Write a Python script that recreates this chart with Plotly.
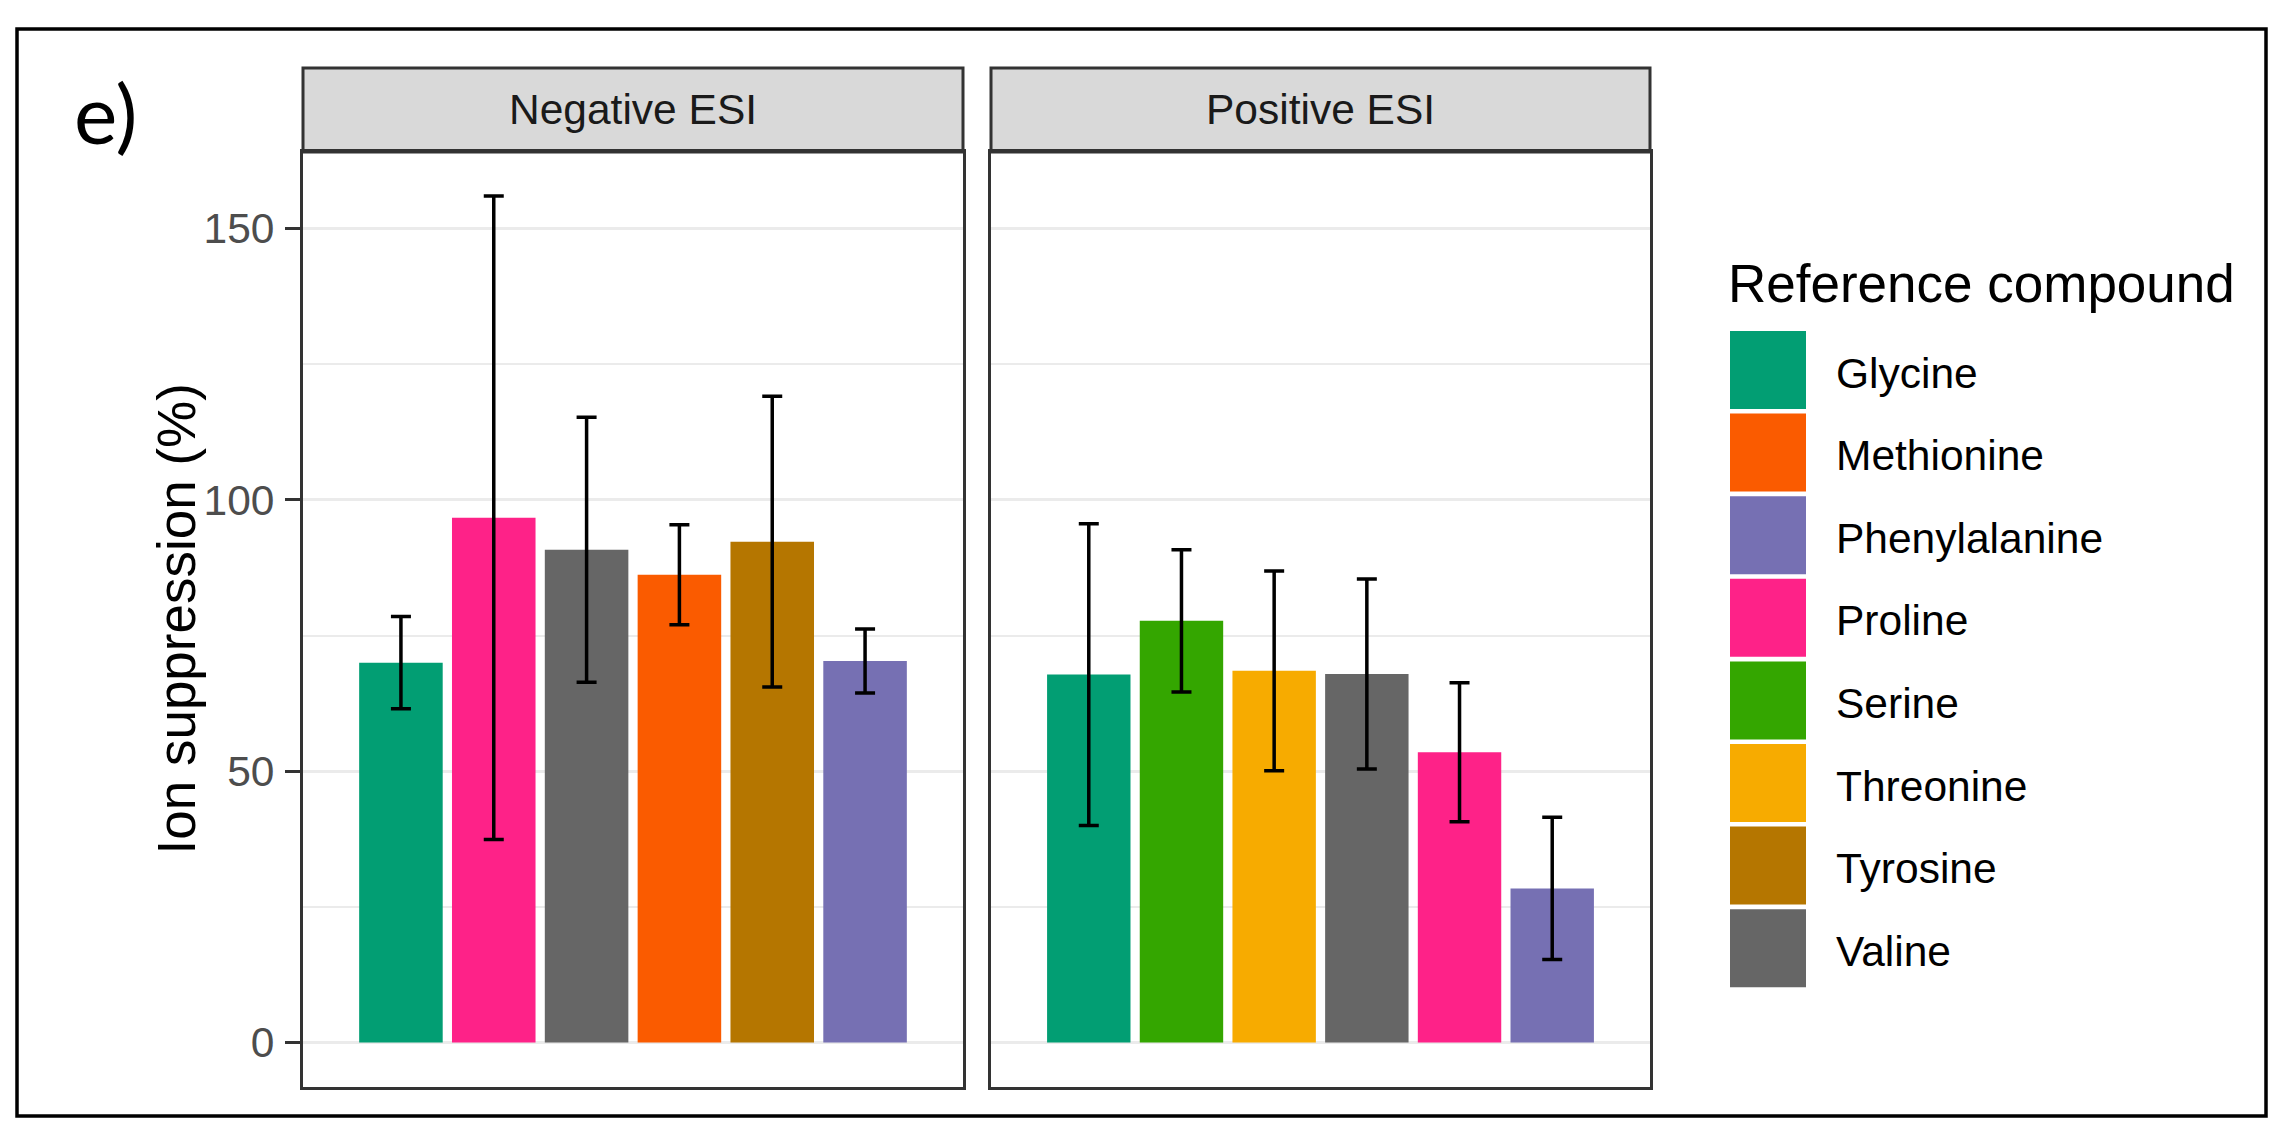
import plotly.graph_objects as go

# ---------------- data ----------------
neg_compounds = ["Glycine", "Proline", "Valine", "Methionine", "Tyrosine", "Phenylalanine"]
neg_mean = [70.0, 96.7, 90.8, 86.2, 92.3, 70.3]
neg_err = [8.5, 59.3, 24.4, 9.2, 26.8, 5.9]

pos_compounds = ["Glycine", "Serine", "Threonine", "Valine", "Proline", "Phenylalanine"]
pos_mean = [67.8, 77.7, 68.5, 67.9, 53.5, 28.4]
pos_err = [27.8, 13.1, 18.4, 17.5, 12.8, 13.1]

legend_order = ["Glycine", "Methionine", "Phenylalanine", "Proline",
                "Serine", "Threonine", "Tyrosine", "Valine"]
palette = {
    "Glycine": "#029E73",
    "Methionine": "#FA5B00",
    "Phenylalanine": "#7670B3",
    "Proline": "#FE2288",
    "Serine": "#34A600",
    "Threonine": "#F7AB00",
    "Tyrosine": "#B57600",
    "Valine": "#666666",
}
facet_titles = ["Negative ESI", "Positive ESI"]
y_ticks = [0, 50, 100, 150]
y_minor = [25, 75, 125]
y_title = "Ion suppression (%)"
legend_title = "Reference compound"
panel_tag = "e)"

# ---------------- geometry (pixels) ----------------
W, H = 2296, 1139
def px(x):
    return x / W
def py(y):
    return 1 - y / H

p1 = (303, 963)
p2 = (991, 1650)
ptop, pbot = 152, 1087
strip_top = 68

FONT = "Liberation Sans"
base = 53
small = 42.5

fig = go.Figure()

for i, (comps, means, errs) in enumerate([(neg_compounds, neg_mean, neg_err),
                                           (pos_compounds, pos_mean, pos_err)]):
    fig.add_trace(go.Bar(
        x=comps, y=means,
        marker=dict(color=[palette[c] for c in comps], line=dict(width=0)),
        error_y=dict(type="data", array=errs, visible=True,
                     color="black", thickness=3.5, width=10),
        xaxis="x" if i == 0 else "x2",
        yaxis="y" if i == 0 else "y2",
        showlegend=False,
        hoverinfo="x+y",
    ))

yr = [-8.2, 164.1]
common_x = dict(showgrid=False, zeroline=False, showticklabels=False, ticks="",
                showline=True, mirror=True, linecolor="#333333", linewidth=3,
                range=[-1.055, 6.055], type="category")
common_y = dict(range=yr, tickvals=y_ticks, showgrid=True, gridcolor="#EBEBEB",
                gridwidth=2.6, zeroline=False, showline=True, mirror=True,
                linecolor="#333333", linewidth=3,
                minor=dict(tickvals=y_minor, showgrid=True, gridcolor="#EBEBEB",
                           gridwidth=1.6, ticks=""))

fig.update_layout(
    width=W, height=H,
    margin=dict(l=0, r=0, t=0, b=0),
    paper_bgcolor="white", plot_bgcolor="white",
    bargap=0.1,
    showlegend=False,
    font=dict(family=FONT, color="black"),
    xaxis=dict(domain=[px(p1[0]), px(p1[1])], anchor="y", **common_x),
    xaxis2=dict(domain=[px(p2[0]), px(p2[1])], anchor="y2", **common_x),
    yaxis=dict(domain=[py(pbot), py(ptop)], anchor="x",
               ticks="outside", ticklen=15, tickwidth=3, tickcolor="#333333",
               tickfont=dict(family=FONT, size=small, color="#4D4D4D"),
               ticklabelstandoff=2,
               **common_y),
    yaxis2=dict(domain=[py(pbot), py(ptop)], anchor="x2", matches="y",
                showticklabels=False, ticks="", **common_y),
)

shapes = []
annotations = []

# outer frame
shapes.append(dict(type="rect", xref="paper", yref="paper",
                   x0=px(17), x1=px(2266), y0=py(1116), y1=py(29),
                   line=dict(color="black", width=3.5), fillcolor="rgba(0,0,0,0)"))

# facet strips
for (x0, x1), title in zip([p1, p2], facet_titles):
    shapes.append(dict(type="rect", xref="paper", yref="paper",
                       x0=px(x0), x1=px(x1), y0=py(ptop), y1=py(strip_top),
                       line=dict(color="#333333", width=3), fillcolor="#D9D9D9",
                       layer="below"))
    annotations.append(dict(xref="paper", yref="paper", x=px((x0 + x1) / 2),
                            y=py((ptop + strip_top) / 2), text=title, showarrow=False,
                            xanchor="center", yanchor="middle",
                            font=dict(family=FONT, size=small, color="#1A1A1A")))

# y axis title
annotations.append(dict(xref="paper", yref="paper", x=px(176), y=py((ptop + pbot) / 2),
                        text=y_title, textangle=-90, showarrow=False,
                        xanchor="center", yanchor="middle",
                        font=dict(family=FONT, size=base, color="black")))

# panel tag
annotations.append(dict(xref="paper", yref="paper", x=px(72), y=py(112),
                        text=panel_tag, showarrow=False,
                        xanchor="left", yanchor="middle",
                        font=dict(family="Lato", size=82, color="black")))

# legend (manual, ggplot-like large keys)
key_left, key_right = 1730, 1806
key_top0, key_h, key_pitch = 331, 78, 82.6
annotations.append(dict(xref="paper", yref="paper", x=px(1726), y=py(284),
                        text=legend_title, showarrow=False,
                        xanchor="left", yanchor="middle",
                        font=dict(family=FONT, size=base, color="black")))
for k, name in enumerate(legend_order):
    t = key_top0 + k * key_pitch
    shapes.append(dict(type="rect", xref="paper", yref="paper",
                       x0=px(key_left), x1=px(key_right), y0=py(t + key_h), y1=py(t),
                       line=dict(width=0), fillcolor=palette[name]))
    annotations.append(dict(xref="paper", yref="paper", x=px(1834), y=py(t + key_h / 2 + 3),
                            text=name, showarrow=False, xanchor="left", yanchor="middle",
                            font=dict(family=FONT, size=small, color="black")))

fig.update_layout(shapes=shapes, annotations=annotations)

fig.write_html("out.html",
               config={"displayModeBar": False},
               post_script="document.body.style.margin='0';document.body.style.overflow='hidden';document.documentElement.style.overflow='hidden';")
